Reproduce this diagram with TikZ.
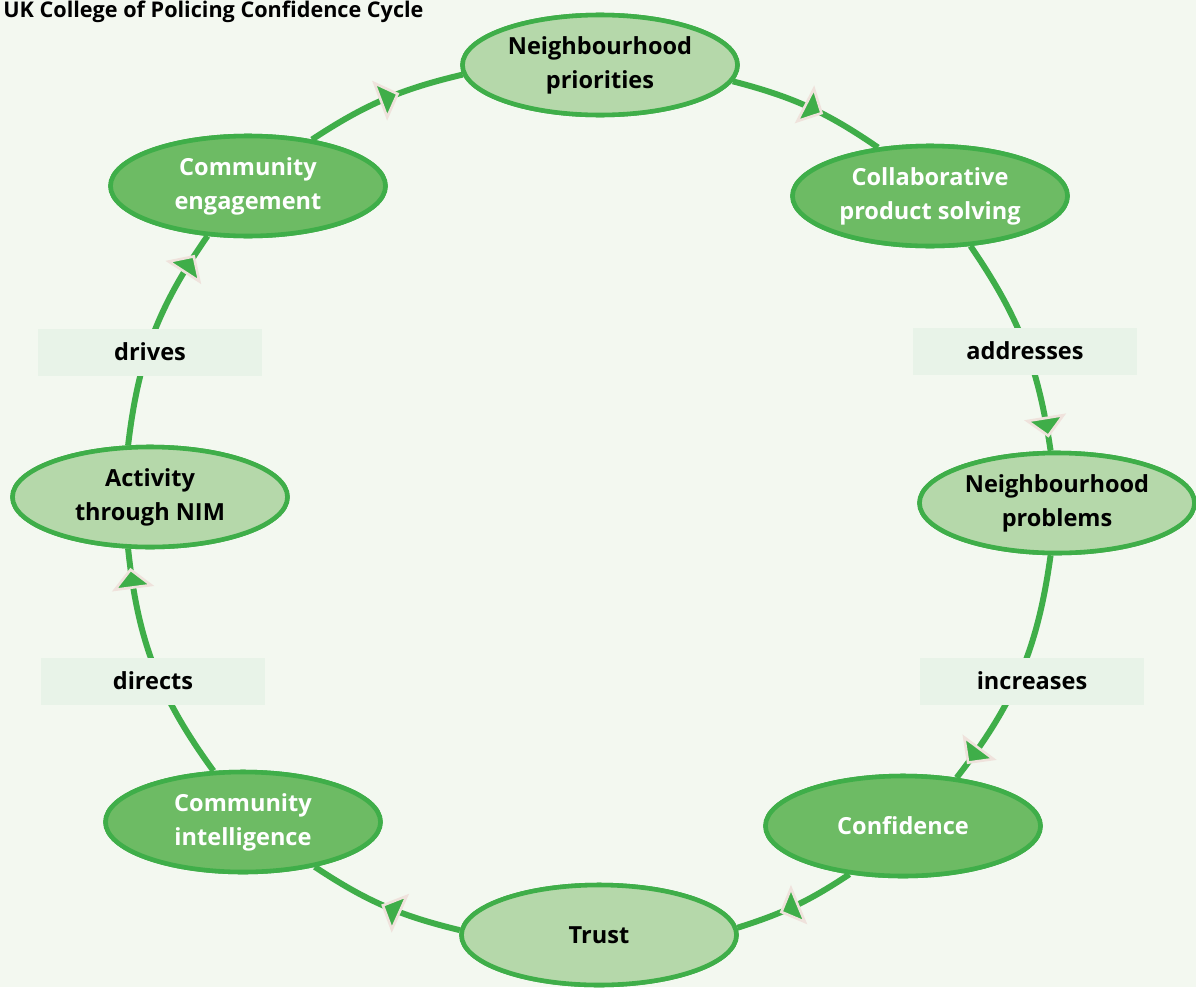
\documentclass[tikz,border=0pt]{standalone}
\usepackage{fontspec}
\setmainfont{Open Sans}
\usetikzlibrary{shapes.geometric,arrows.meta,decorations.markings}
\definecolor{bggreen}{HTML}{F3F8F0}
\definecolor{linegreen}{HTML}{3FAE49}
\definecolor{lightfill}{HTML}{B5D8AA}
\definecolor{darkfill}{HTML}{6DBB64}
\definecolor{labelfill}{HTML}{E8F3E8}
\definecolor{palerim}{HTML}{EFE2DC}
\tikzset{
  cyc/.style={ellipse, draw=linegreen, line width=2.6pt, minimum width=5.5cm, minimum height=2.0cm,
    inner sep=0pt, align=center, font=\fontsize{13.4pt}{19.3pt}\selectfont\bfseries},
  lightnode/.style={cyc, fill=lightfill, text=black},
  darknode/.style={cyc, fill=darkfill, text=white},
  lbl/.style={fill=labelfill, minimum width=4.48cm, minimum height=0.94cm, inner sep=0pt,
    font=\fontsize{13.4pt}{15pt}\selectfont\bfseries, text=black},
  tri/.tip={Triangle[length=12pt, width=24pt, line width=1.5pt, color=palerim, fill=linegreen]},
  flow/.style={draw=linegreen, line width=3.4pt, postaction={decorate},
    decoration={markings, mark=at position #1 with {\arrow{tri}}}},
}
\begin{document}
\begin{tikzpicture}[x=0.02cm,y=0.02cm]
\fill[bggreen] (0,0) rectangle (1196,-987);
\useasboundingbox (0,0) rectangle (1196,-987);
\node[anchor=base west, inner sep=0pt, font=\fontsize{12.3pt}{13pt}\selectfont\bfseries] (title) at (3,-17) {UK College of Policing Confidence Cycle};

\node[lightnode] (pr) at (600,-65) {Neighbourhood\\priorities};
\node[darknode]  (co) at (930,-196) {Collaborative\\product solving};
\node[lightnode] (np) at (1057,-503) {Neighbourhood\\problems};
\node[darknode]  (cf) at (903,-826) {Confidence};
\node[lightnode] (tr) at (599,-935) {Trust};
\node[darknode]  (ci) at (243,-822) {Community\\intelligence};
\node[lightnode] (ac) at (150,-497) {Activity\\through NIM};
\node[darknode]  (ce) at (248,-186) {Community\\engagement};

\path[flow=0.6]  (pr.-7)   to[bend left=10] (co.137);
\path[flow=0.94] (co.-51)  to[bend left=13] (np.97);
\path[flow=0.93] (np.263)  to[bend left=15] (cf.42);
\path[flow=0.64] (cf.222)  to[bend left=8]  (tr.3);
\path[flow=0.52] (tr.178)  to[bend left=10] (ci.-32);
\path[flow=0.92] (ci.120)  to[bend left=15] (ac.247);
\path[flow=0.9]  (ac.113)  to[bend left=14] (ce.231);
\path[flow=0.6]  (ce.36)   to[bend left=10] (pr.184);

% nodes again, above the connectors
\node[lightnode] at (pr) {Neighbourhood\\priorities};
\node[darknode]  at (co) {Collaborative\\product solving};
\node[lightnode] at (np) {Neighbourhood\\problems};
\node[darknode]  at (cf) {Confidence};
\node[lightnode] at (tr) {Trust};
\node[darknode]  at (ci) {Community\\intelligence};
\node[lightnode] at (ac) {Activity\\through NIM};
\node[darknode]  at (ce) {Community\\engagement};

\node[lbl] (l1) at (150,-352) {drives};
\node[lbl] (l2) at (1025,-351) {addresses};
\node[lbl] (l3) at (153,-681) {directs};
\node[lbl] (l4) at (1032,-681) {increases};
\end{tikzpicture}
\end{document}
